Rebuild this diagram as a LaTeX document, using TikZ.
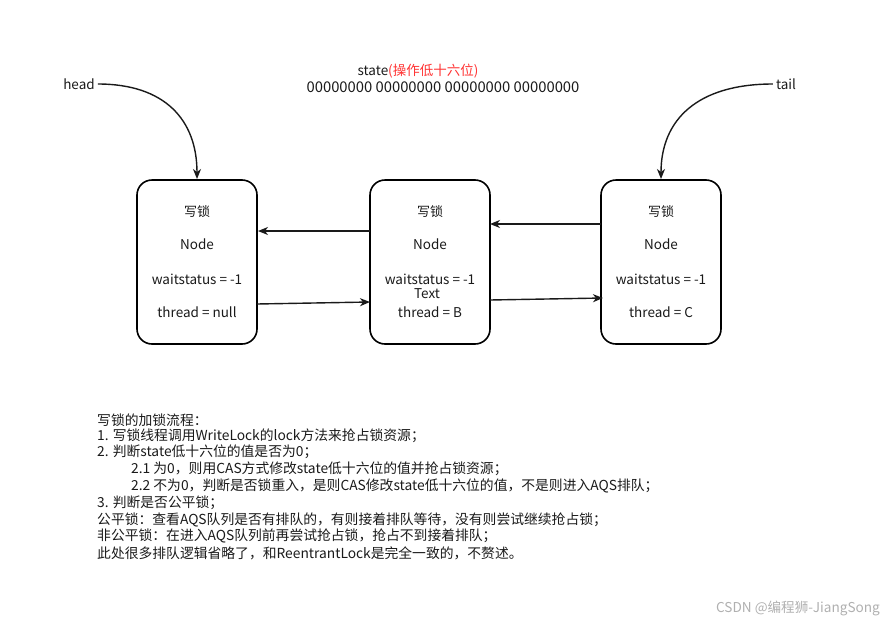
\documentclass[tikz,border=0pt]{standalone}
\usepackage{fontspec}
\setmainfont{Noto Sans CJK SC}
\usetikzlibrary{arrows.meta}
\definecolor{txt}{HTML}{1A1A1A}
\definecolor{redt}{HTML}{FF3333}
\definecolor{wm}{HTML}{B0B0B0}
\begin{document}
\begin{tikzpicture}[x=1pt,y=-1pt,
  box/.style={draw=black,line width=1.6pt,rounded corners=15pt,minimum width=120pt,minimum height=164pt,inner sep=0pt},
  lbl/.style={font=\fontsize{13}{15}\selectfont,text=txt,inner sep=0pt},
  arr/.style={draw=txt,line width=1.4pt,-{Stealth[length=10pt,width=8pt,inset=3pt]}},
  note/.style={font=\fontsize{13.8}{16}\selectfont,text=txt,inner sep=0pt,anchor=west}
]
\useasboundingbox (0,0) rectangle (885,624);
\node[box] (b1) at (197,262) {};
\node[box] (b2) at (430,262) {};
\node[box] (b3) at (661,262) {};
\foreach \b/\x/\t in {b1/197/null,b2/430/B,b3/661/C}{
  \node[lbl] (\b w) at (\x,212) {写锁};
  \node[lbl,font=\fontsize{13.5}{15}\selectfont] (\b n) at (\x,244) {Node};
  \node[lbl,font=\fontsize{13.5}{15}\selectfont] (\b s) at (\x,279) {waitstatus = -1};
  \node[lbl,font=\fontsize{13.5}{15}\selectfont] (\b t) at (\x,312) {thread = \t};
}
\node[lbl,font=\fontsize{13.5}{15}\selectfont] (b2x) at (427,294) {Text};
\node[lbl,font=\fontsize{13.5}{15}\selectfont] (head) at (79,84) {head};
\node[lbl,font=\fontsize{13.5}{15}\selectfont] (tail) at (786,84) {tail};
\node[lbl,font=\fontsize{13.5}{15}\selectfont] (st) at (418,71) {state\textcolor{redt}{(操作低十六位)}};
\node[lbl,font=\fontsize{14.8}{16}\selectfont] (bits) at (443,87) {00000000 00000000 00000000 00000000};
\coordinate (h1) at (197,179);
\coordinate (t1) at (661,179);
\draw[arr] (head.east) ++(3,0) .. controls (165,84) and (197,120) .. (h1);
\draw[arr] (tail.west) ++(-3,0) .. controls (697,84) and (661,120) .. (t1);
\coordinate (a1s) at (370,231); \coordinate (a1e) at (258,231);
\coordinate (a2s) at (257,304); \coordinate (a2e) at (370,302);
\coordinate (a3s) at (601,224); \coordinate (a3e) at (490,224);
\coordinate (a4s) at (490,300); \coordinate (a4e) at (603,298);
\draw[arr] (a1s) -- (a1e);
\draw[arr] (a2s) -- (a2e);
\draw[arr] (a3s) -- (a3e);
\draw[arr] (a4s) -- (a4e);
\node[note] (l1) at (97,420) {写锁的加锁流程：};
\node[note] (l2) at (97,436) {1. 写锁线程调用WriteLock的lock方法来抢占锁资源；};
\node[note] (l3) at (97,452) {2. 判断state低十六位的值是否为0；};
\node[note] (l4) at (131,469) {2.1 为0，则用CAS方式修改state低十六位的值并抢占锁资源；};
\node[note] (l5) at (131,486) {2.2 不为0，判断是否锁重入，是则CAS修改state低十六位的值，不是则进入AQS排队；};
\node[note] (l6) at (97,503) {3. 判断是否公平锁；};
\node[note] (l7) at (97,520) {公平锁：查看AQS队列是否有排队的，有则接着排队等待，没有则尝试继续抢占锁；};
\node[note] (l8) at (97,536) {非公平锁：在进入AQS队列前再尝试抢占锁，抢占不到接着排队；};
\node[note] (l9) at (97,553) {此处很多排队逻辑省略了，和ReentrantLock是完全一致的，不赘述。};
\node[font=\fontsize{13.6}{15}\selectfont,text=wm,inner sep=0pt,anchor=east] (wmk) at (880,608) {CSDN @编程狮-JiangSong};
\end{tikzpicture}
\end{document}
